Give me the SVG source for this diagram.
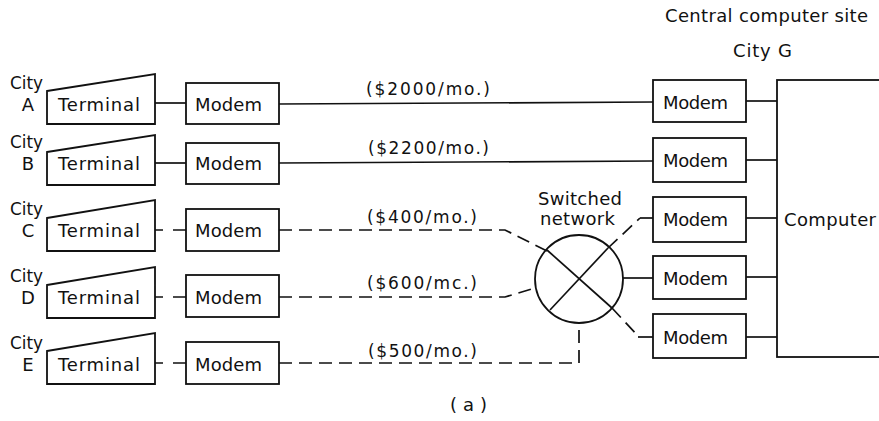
<svg xmlns="http://www.w3.org/2000/svg" width="879" height="421" viewBox="0 0 879 421">
<style>
  .bx{fill:#fff;stroke:#111;stroke-width:1.8}
  .ln{fill:none;stroke:#111;stroke-width:1.7}
  .ds{fill:none;stroke:#111;stroke-width:1.7;stroke-dasharray:13 7}
  text{font-family:"DejaVu Sans","Liberation Sans",sans-serif;fill:#111}
  .t{font-size:18px}
  .l{font-size:17px}
</style>
<rect width="879" height="421" fill="#fff"/>
<g id="header">
  <text class="t" x="665" y="22" textLength="203" lengthAdjust="spacing">Central computer site</text>
  <text class="t" x="733" y="57" textLength="59" lengthAdjust="spacing">City G</text>
</g>
<g id="cityA">
  <text class="t" x="10" y="89" textLength="33" lengthAdjust="spacingAndGlyphs">City</text>
  <text class="t" x="28" y="111" text-anchor="middle">A</text>
</g>
<g id="cityB">
  <text class="t" x="10" y="148" textLength="33" lengthAdjust="spacingAndGlyphs">City</text>
  <text class="t" x="28" y="170" text-anchor="middle">B</text>
</g>
<g id="cityC">
  <text class="t" x="10" y="215" textLength="33" lengthAdjust="spacingAndGlyphs">City</text>
  <text class="t" x="28" y="237" text-anchor="middle">C</text>
</g>
<g id="cityD">
  <text class="t" x="10" y="282" textLength="33" lengthAdjust="spacingAndGlyphs">City</text>
  <text class="t" x="28" y="304" text-anchor="middle">D</text>
</g>
<g id="cityE">
  <text class="t" x="10" y="349" textLength="33" lengthAdjust="spacingAndGlyphs">City</text>
  <text class="t" x="28" y="371" text-anchor="middle">E</text>
</g>
<g id="terminalA">
  <polygon class="bx" points="47,91 155,74 155,124 47,124"/>
  <text class="t" x="58" y="111" textLength="82" lengthAdjust="spacing">Terminal</text>
</g>
<g id="terminalB">
  <polygon class="bx" points="47,152 155,135 155,185 47,185"/>
  <text class="t" x="58" y="170" textLength="82" lengthAdjust="spacing">Terminal</text>
</g>
<g id="terminalC">
  <polygon class="bx" points="47,218 155,200 155,251 47,251"/>
  <text class="t" x="58" y="237" textLength="82" lengthAdjust="spacing">Terminal</text>
</g>
<g id="terminalD">
  <polygon class="bx" points="47,285 155,267 155,318 47,318"/>
  <text class="t" x="58" y="304" textLength="82" lengthAdjust="spacing">Terminal</text>
</g>
<g id="terminalE">
  <polygon class="bx" points="47,351 155,333 155,384 47,384"/>
  <text class="t" x="58" y="371" textLength="82" lengthAdjust="spacing">Terminal</text>
</g>
<g id="modemA">
  <rect class="bx" x="186" y="83" width="93" height="41"/>
  <text class="t" x="195" y="111" textLength="67" lengthAdjust="spacing">Modem</text>
</g>
<g id="modemB">
  <rect class="bx" x="186" y="143" width="93" height="41"/>
  <text class="t" x="195" y="170" textLength="67" lengthAdjust="spacing">Modem</text>
</g>
<g id="modemC">
  <rect class="bx" x="186" y="209" width="93" height="42"/>
  <text class="t" x="195" y="237" textLength="67" lengthAdjust="spacing">Modem</text>
</g>
<g id="modemD">
  <rect class="bx" x="186" y="275" width="93" height="42"/>
  <text class="t" x="195" y="304" textLength="67" lengthAdjust="spacing">Modem</text>
</g>
<g id="modemE">
  <rect class="bx" x="186" y="342" width="93" height="42"/>
  <text class="t" x="195" y="371" textLength="67" lengthAdjust="spacing">Modem</text>
</g>
<g id="modemG1">
  <rect class="bx" x="653" y="80" width="93" height="42"/>
  <text class="t" x="663" y="109" textLength="65" lengthAdjust="spacing">Modem</text>
</g>
<g id="modemG2">
  <rect class="bx" x="653" y="138" width="93" height="44"/>
  <text class="t" x="663" y="167" textLength="65" lengthAdjust="spacing">Modem</text>
</g>
<g id="modemG3">
  <rect class="bx" x="653" y="197" width="93" height="45"/>
  <text class="t" x="663" y="226" textLength="65" lengthAdjust="spacing">Modem</text>
</g>
<g id="modemG4">
  <rect class="bx" x="653" y="256" width="93" height="43"/>
  <text class="t" x="663" y="285" textLength="65" lengthAdjust="spacing">Modem</text>
</g>
<g id="modemG5">
  <rect class="bx" x="653" y="314" width="93" height="44"/>
  <text class="t" x="663" y="344" textLength="65" lengthAdjust="spacing">Modem</text>
</g>
<g id="computer">
  <rect class="bx" x="777" y="80" width="120" height="277"/>
  <text class="t" x="784" y="226" textLength="92" lengthAdjust="spacing">Computer</text>
</g>
<g id="switch">
  <circle class="bx" cx="579" cy="279" r="44"/>
  <line class="ln" x1="547" y1="250" x2="612" y2="308"/>
  <line class="ln" x1="608" y1="248" x2="550" y2="310"/>
  <text class="t" x="538" y="205" textLength="84" lengthAdjust="spacing">Switched</text>
  <text class="t" x="540" y="225" textLength="75" lengthAdjust="spacing">network</text>
</g>
<g id="connectors">
  <line class="ln" x1="155" y1="103" x2="186" y2="103"/>
  <line class="ln" x1="155" y1="163" x2="186" y2="163"/>
  <path class="ln" d="M155 230 H163 M173 230 H186"/>
  <path class="ln" d="M155 297 H163 M173 297 H186"/>
  <path class="ln" d="M155 363 H163 M173 363 H186"/>
  <line class="ln" x1="279" y1="104" x2="653" y2="102"/>
  <line class="ln" x1="279" y1="163" x2="653" y2="161"/>
  <path class="ds" d="M279 230 H505 L547 251"/>
  <path class="ds" d="M279 297 H505 L535 288"/>
  <path class="ds" d="M279 363 H579 V323"/>
  <path class="ds" d="M608 248 L640 218"/>
  <line class="ln" x1="640" y1="218" x2="653" y2="218"/>
  <line class="ln" x1="623" y1="278" x2="653" y2="278"/>
  <path class="ds" d="M612 308 L638 336"/>
  <line class="ln" x1="638" y1="337" x2="653" y2="337"/>
  <line class="ln" x1="746" y1="101" x2="777" y2="101"/>
  <line class="ln" x1="746" y1="160" x2="777" y2="160"/>
  <line class="ln" x1="746" y1="218" x2="777" y2="218"/>
  <line class="ln" x1="746" y1="277" x2="777" y2="277"/>
  <line class="ln" x1="746" y1="337" x2="777" y2="337"/>
</g>
<g id="labels">
  <text class="l" x="366" y="95" textLength="124" lengthAdjust="spacing">($2000/mo.)</text>
  <text class="l" x="368" y="154" textLength="121" lengthAdjust="spacing">($2200/mo.)</text>
  <text class="l" x="367" y="223" textLength="110" lengthAdjust="spacing">($400/mo.)</text>
  <text class="l" x="367" y="289" textLength="110" lengthAdjust="spacing">($600/mc.)</text>
  <text class="l" x="368" y="357" textLength="109" lengthAdjust="spacing">($500/mo.)</text>
  <text class="t" x="450" y="411" textLength="37" lengthAdjust="spacing">( a )</text>
</g>
</svg>
